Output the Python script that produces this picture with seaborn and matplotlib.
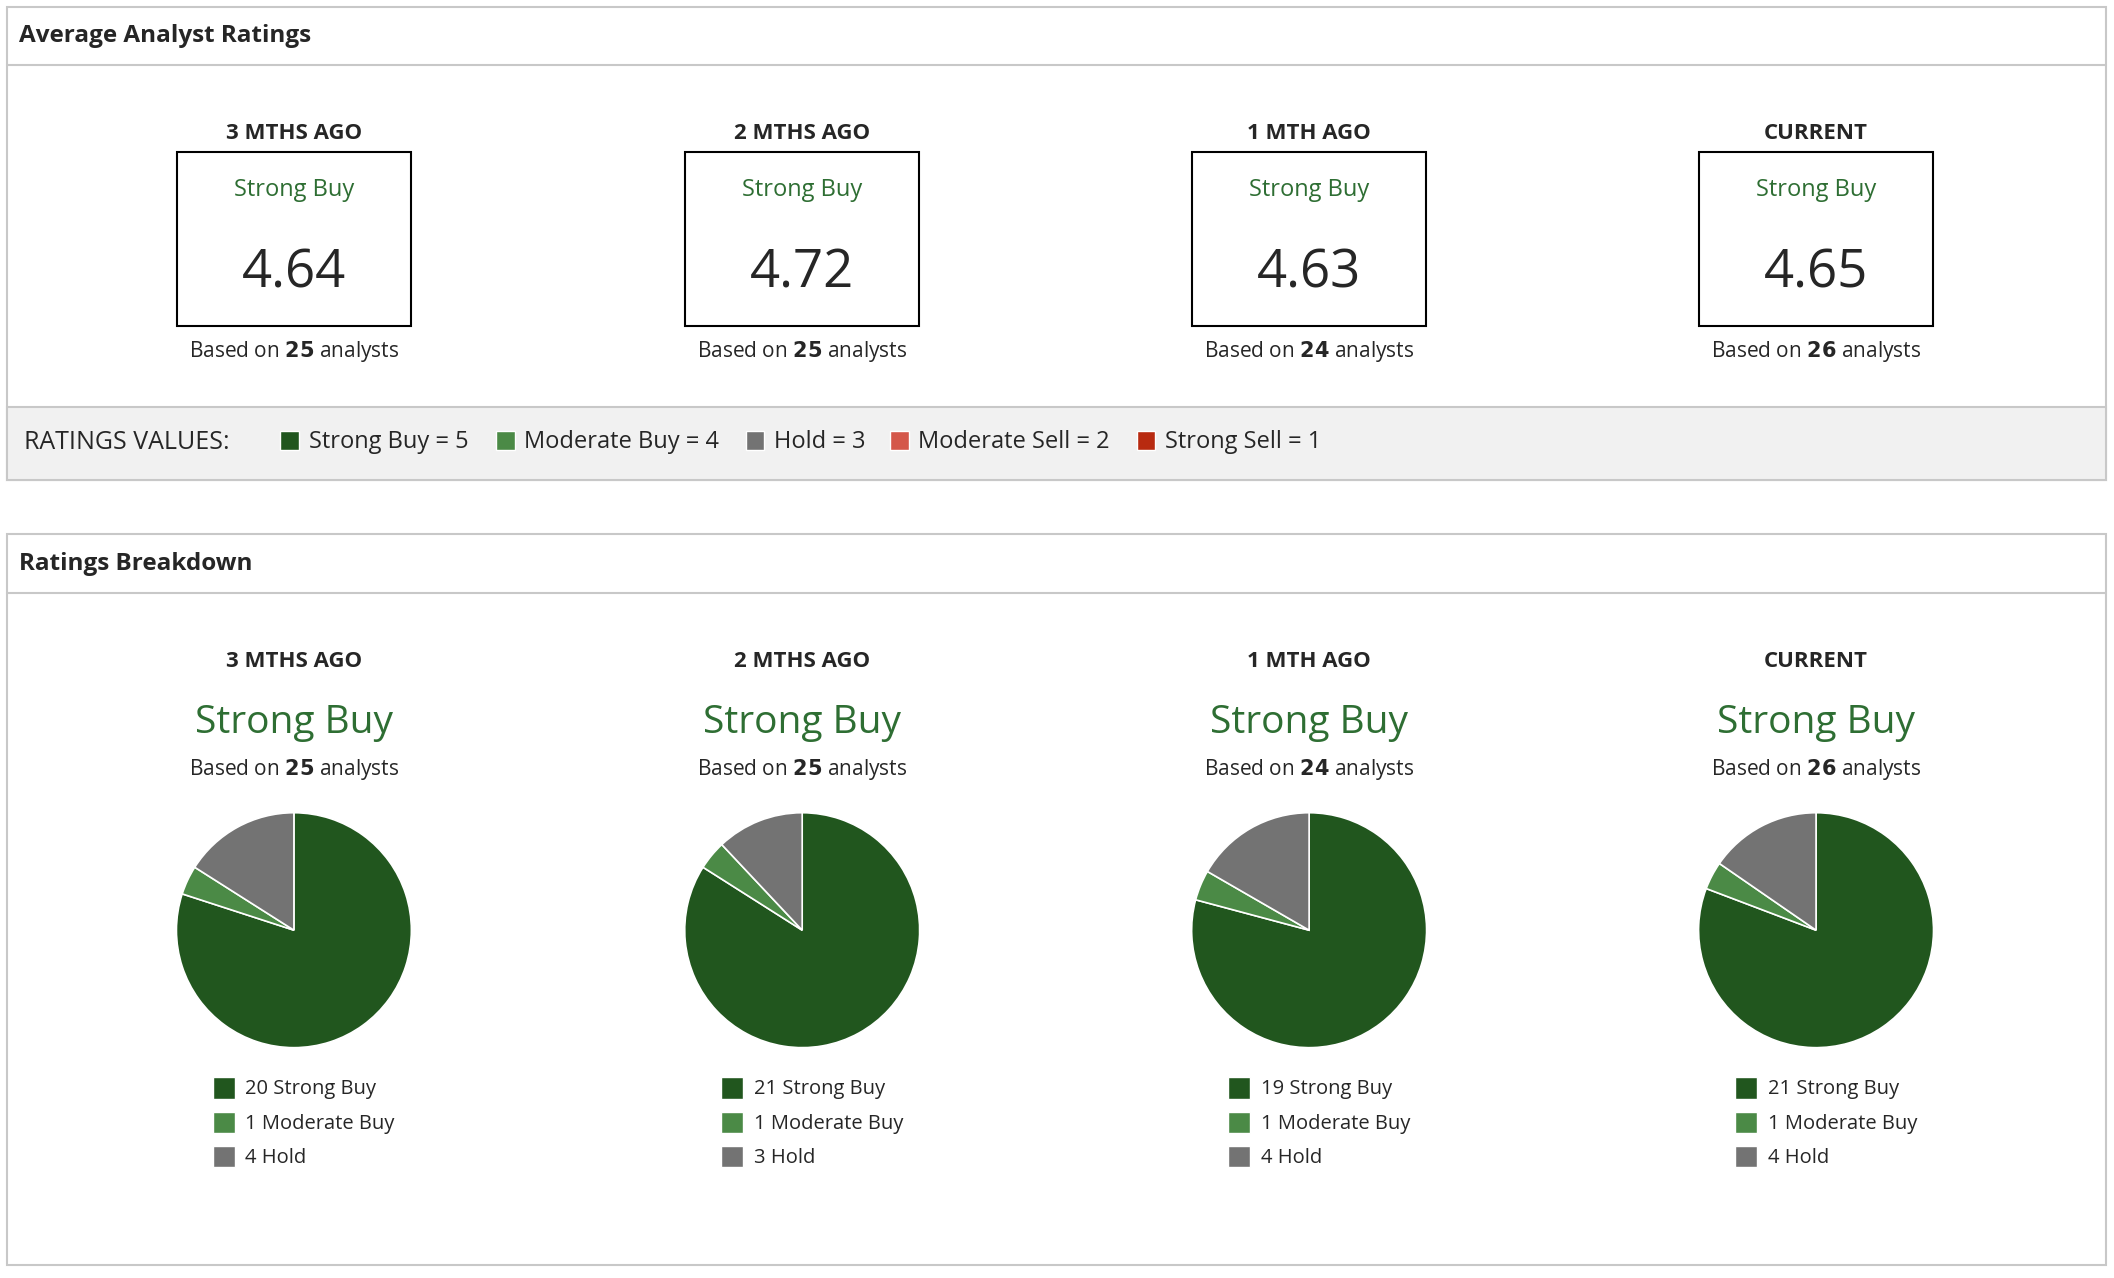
import seaborn as sns
import matplotlib.pyplot as plt
from matplotlib.patches import Rectangle

# Ratings data
periods = ["3 MTHS AGO", "2 MTHS AGO", "1 MTH AGO", "CURRENT"]
scores = ["4.64", "4.72", "4.63", "4.65"]
analysts = [25, 25, 24, 26]
counts = {"Strong Buy": [20, 21, 19, 21], "Moderate Buy": [1, 1, 1, 1], "Hold": [4, 3, 4, 4]}
colors = {"Strong Buy": "#21561e", "Moderate Buy": "#4b8a46", "Hold": "#737373",
          "Moderate Sell": "#d4574a", "Strong Sell": "#b82a10"}
green_text = "#2e6e33"

sns.set_style("white")
plt.rcParams['font.family'] = ['Open Sans', 'DejaVu Sans']

W, H = 1568, 948
f = plt.figure(figsize=(21.14, 12.78), dpi=100)
ax = f.add_axes([0, 0, 1, 1])
ax.set_xlim(0, W)
ax.set_ylim(H, 0)
ax.axis("off")

# Panel frames
for y0, y1, yh, title in [(5, 356, 48, "Average Analyst Ratings"), (396, 938, 440, "Ratings Breakdown")]:
    ax.add_patch(Rectangle((5, y0), 1557, y1 - y0, fill=False, ec="#c8c8c8", lw=1.5))
    ax.plot([5, 1562], [yh, yh], color="#c8c8c8", lw=1.5)
    ax.text(14, (y0 + yh) / 2, title, fontsize=17.5, fontweight="bold", va="center")
ax.add_patch(Rectangle((5, 302), 1557, 54, fc="#f1f1f1", ec="#c8c8c8", lw=1.5))
ax.text(18, 328, "RATINGS VALUES:", fontsize=18, va="center")
legend_x = [208, 368, 553, 660, 843]  # square positions
for x, (name, val) in zip(legend_x, [("Strong Buy", 5), ("Moderate Buy", 4), ("Hold", 3),
                                      ("Moderate Sell", 2), ("Strong Sell", 1)]):
    ax.add_patch(Rectangle((x, 320), 14, 14, fc=colors[name]))
    ax.text(x + 21, 328, f"{name} = {val}", fontsize=17, va="center")

centers = [218, 595, 971, 1347]
for i, cx in enumerate(centers):
    # top panel
    ax.text(cx, 99, periods[i], fontsize=16, fontweight="bold", ha="center", va="center")
    ax.add_patch(Rectangle((cx - 87, 113), 174, 129, fill=False, ec="black", lw=1.5))
    ax.text(cx, 141, "Strong Buy", fontsize=17, color=green_text, ha="center", va="center")
    ax.text(cx, 203, scores[i], fontsize=38, ha="center", va="center")
    ax.text(cx, 261, f"Based on $\\bf{{{analysts[i]}}}$ analysts", fontsize=15, ha="center", va="center")
    # bottom panel
    ax.text(cx, 491, periods[i], fontsize=16, fontweight="bold", ha="center", va="center")
    ax.text(cx, 536, "Strong Buy", fontsize=28, color=green_text, ha="center", va="center")
    ax.text(cx, 571, f"Based on $\\bf{{{analysts[i]}}}$ analysts", fontsize=15, ha="center", va="center")
    r = 88
    pax = f.add_axes([(cx - r) / W, 1 - (690 + r) / H, 2 * r / W, 2 * r / H])
    vals = [counts[k][i] for k in counts]
    pax.pie(vals, colors=[colors[k] for k in counts], startangle=90, counterclock=False,
            wedgeprops={"edgecolor": "white", "linewidth": 1.2})
    pax.set_aspect("auto")
    pax.set_xlim(-1.01, 1.01)
    pax.set_ylim(-1.01, 1.01)
    for j, k in enumerate(counts):
        yy = 807 + j * 25.5
        ax.add_patch(Rectangle((cx - 60, yy - 8), 16, 16, fc=colors[k]))
        ax.text(cx - 36, yy + 1, f"{counts[k][i]} {k}", fontsize=14.5, va="center")

f.savefig("out.png", dpi=100)
